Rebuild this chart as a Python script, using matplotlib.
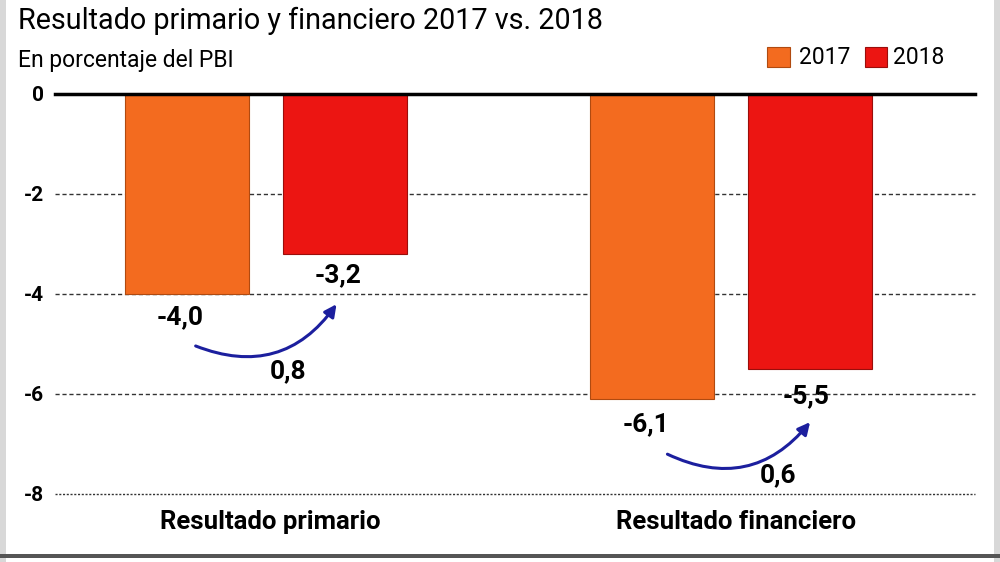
import matplotlib
matplotlib.use("Agg")
import matplotlib.pyplot as plt
from matplotlib.patches import Rectangle

plt.rcParams['font.family'] = ['Roboto', 'DejaVu Sans']

categorias = ["Resultado primario", "Resultado financiero"]
anios = ["2017", "2018"]
v2017 = [-4.0, -6.1]
v2018 = [-3.2, -5.5]
mejora = ["0,8", "0,6"]
etiq2017 = ["-4,0", "-6,1"]
etiq2018 = ["-3,2", "-5,5"]
yticks = [0, -2, -4, -6, -8]

naranja = "#F36B1F"
rojo = "#EC1512"
azul = "#1C1F9E"

fig = plt.figure(figsize=(10, 5.62), dpi=100)
ax = fig.add_axes([0.055, 0.121, 0.92, 0.712])

x = [0, 1]
w = 0.267
d = 0.17
ax.bar([i - d for i in x], v2017, w, color=naranja, edgecolor="#b04a10", linewidth=0.8, zorder=3)
ax.bar([i + d for i in x], v2018, w, color=rojo, edgecolor="#9a0e0b", linewidth=0.8, zorder=3)

for t in yticks[1:-1]:
    ax.axhline(t, color="#333333", linestyle=(0, (3, 2)), linewidth=1.0, zorder=1, clip_on=False)
ax.axhline(yticks[-1], color="#333333", linestyle=(0, (1.5, 1.2)), linewidth=1.0, zorder=1, clip_on=False)
ax.axhline(0, color="black", linewidth=2.5, zorder=4, clip_on=False)

ax.set_xlim(-0.454, 1.525)
ax.set_ylim(-8, 0)
ax.set_yticks(yticks)
ax.set_yticklabels([str(t) for t in yticks], fontsize=15, fontweight="bold")
ax.tick_params(axis="y", length=0, pad=8)
ax.set_xticks([])
for s in ax.spines.values():
    s.set_visible(False)

# etiquetas de valores y flechas
pos17 = [(-0.185, -4.46), (0.817, -6.60)]
pos18 = [(0.155, -3.62), (1.161, -6.04)]
posm = [(0.047, -5.54), (1.101, -7.62)]
flechas = [((-0.157, -5.02), (0.155, -4.16)), ((0.858, -7.18), (1.174, -6.52))]
for i in range(2):
    ax.text(*pos17[i], etiq2017[i], ha="center", va="center", fontsize=19, fontweight="bold", zorder=5)
    ax.text(*pos18[i], etiq2018[i], ha="center", va="center", fontsize=19, fontweight="bold", zorder=5)
    ax.text(*posm[i], mejora[i], ha="center", va="center", fontsize=19, fontweight="bold", zorder=5)
    ax.annotate("", xy=flechas[i][1], xytext=flechas[i][0],
                arrowprops=dict(arrowstyle="-|>", color=azul, lw=2.2,
                                connectionstyle="arc3,rad=0.4", mutation_scale=18))
    ax.text(x[i] + 0.01, -8.56, categorias[i], ha="center", va="center", fontsize=18.5, fontweight="bold")

fig.text(0.018, 0.962, "Resultado primario y financiero 2017 vs. 2018", fontsize=20.7, va="center")
fig.text(0.018, 0.893, "En porcentaje del PBI", fontsize=16.5, va="center")

# leyenda
fig.patches.append(Rectangle((0.767, 0.880), 0.023, 0.037, transform=fig.transFigure, facecolor=naranja, edgecolor="#b04a10", lw=0.8))
fig.text(0.799, 0.898, anios[0], fontsize=16.5, va="center")
fig.patches.append(Rectangle((0.865, 0.880), 0.022, 0.037, transform=fig.transFigure, facecolor=rojo, edgecolor="#9a0e0b", lw=0.8))
fig.text(0.893, 0.898, anios[1], fontsize=16.5, va="center")

# marco
fig.patches.append(Rectangle((0, 0), 0.006, 1, transform=fig.transFigure, facecolor="#d8d8d8", lw=0))
fig.patches.append(Rectangle((0.994, 0), 0.006, 1, transform=fig.transFigure, facecolor="#d8d8d8", lw=0))
fig.patches.append(Rectangle((0, 0.008), 1, 0.006, transform=fig.transFigure, facecolor="#555555", lw=0))

fig.savefig("out.png", dpi=100)
